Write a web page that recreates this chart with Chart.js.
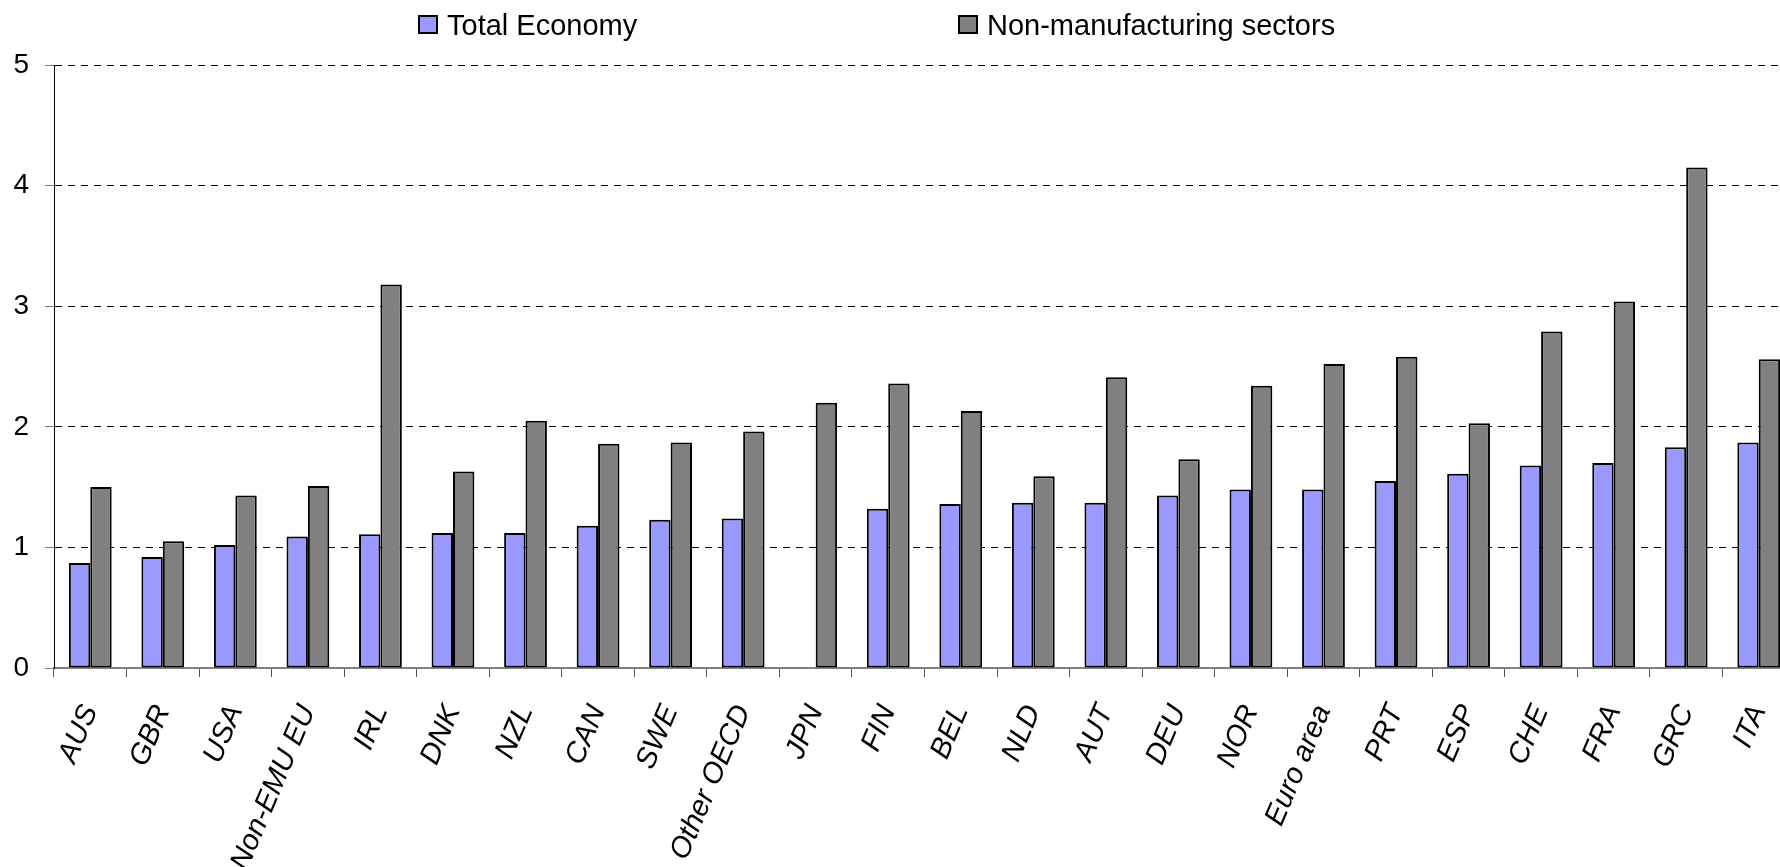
<!DOCTYPE html>
<html>
<head>
<meta charset="utf-8">
<script src="https://cdn.jsdelivr.net/npm/chart.js@4.4.1/dist/chart.umd.min.js"></script>
<style>
  html, body { margin: 0; padding: 0; background: #fff; overflow: hidden; }
  #wrap { position: relative; width: 1795px; height: 867px; }
  #chartCanvas { display: block; }
  .leg { position: absolute; top: 9px; font: 29px "Liberation Sans", Arial, sans-serif; color: #000; white-space: nowrap; }
  .legBox { position: absolute; top: 15px; width: 16px; height: 15px; border: 2px solid #000; }
</style>
</head>
<body>
<div id="wrap">
  <canvas id="chartCanvas" width="1795" height="867"></canvas>
  <div id="legendDiv"></div>
</div>
<script>
//data
const countries = ["AUS", "GBR", "USA", "Non-EMU EU", "IRL", "DNK", "NZL", "CAN", "SWE", "Other OECD",
  "JPN", "FIN", "BEL", "NLD", "AUT", "DEU", "NOR", "Euro area", "PRT", "ESP", "CHE", "FRA", "GRC", "ITA"];
const totalEconomy = [0.87, 0.92, 1.02, 1.09, 1.11, 1.12, 1.12, 1.18, 1.23, 1.24,
  null, 1.32, 1.36, 1.37, 1.37, 1.43, 1.48, 1.48, 1.55, 1.61, 1.68, 1.70, 1.83, 1.87];
const nonManufacturing = [1.50, 1.05, 1.43, 1.51, 3.18, 1.63, 2.05, 1.86, 1.87, 1.96,
  2.20, 2.36, 2.13, 1.59, 2.41, 1.73, 2.34, 2.52, 2.58, 2.03, 2.79, 3.04, 4.15, 2.56];
const yTicks = [0, 1, 2, 3, 4, 5];

const seriesNames = ["Total Economy", "Non-manufacturing sectors"];
const seriesColors = ["#9999FF", "#808080"];
const legendLeft = [418, 958];

//html legend
const legendDiv = document.getElementById("legendDiv");
for (let i = 0; i < seriesNames.length; i++) {
  const box = document.createElement("div");
  box.className = "legBox";
  box.style.left = legendLeft[i] + "px";
  box.style.background = seriesColors[i];
  legendDiv.appendChild(box);
  const txt = document.createElement("div");
  txt.className = "leg";
  txt.style.left = (legendLeft[i] + 29) + "px";
  txt.textContent = seriesNames[i];
  legendDiv.appendChild(txt);
}

//chart
const canvasDiv = document.getElementById("chartCanvas");
const fontFamily = '"Liberation Sans", Arial, sans-serif';

var chart = new Chart(canvasDiv, {
  type: "bar",
  data: {
    labels: countries,
    datasets: [
      {
        label: seriesNames[0],
        data: totalEconomy,
        backgroundColor: seriesColors[0],
        borderColor: "#000",
        borderWidth: 2,
        borderSkipped: false,
      },
      {
        label: seriesNames[1],
        data: nonManufacturing,
        backgroundColor: seriesColors[1],
        borderColor: "#000",
        borderWidth: 2,
        borderSkipped: false,
      },
    ],
  },
  options: {
    responsive: false,
    animation: false,
    devicePixelRatio: 1,
    layout: { padding: { top: 65, right: 0, bottom: 0, left: 0 } },
    datasets: {
      bar: { categoryPercentage: 0.59, barPercentage: 1.0 },
    },
    plugins: {
      legend: { display: false },
      tooltip: { enabled: false },
    },
    scales: {
      x: {
        offset: true,
        grid: {
          offset: true,
          drawOnChartArea: false,
          drawTicks: true,
          tickLength: 9,
          color: "#555",
          lineWidth: 1,
        },
        border: { color: "#808080", width: 2 },
        ticks: {
          autoSkip: false,
          minRotation: 67,
          maxRotation: 67,
          padding: 23,
          color: "#000",
          font: { family: fontFamily, size: 29, style: "italic" },
        },
        afterFit: (axis) => {
          axis.height = 199;
          axis.paddingLeft = 0;
          axis.paddingRight = 0;
        },
      },
      y: {
        min: 0,
        max: 5,
        afterBuildTicks: (axis) => {
          axis.ticks = yTicks.map((v) => ({ value: v }));
        },
        grid: {
          color: (ctx) => (ctx.tick && ctx.tick.value === 0 ? "rgba(0,0,0,0)" : "#000"),
          lineWidth: 1,
          tickLength: 9,
          tickColor: "#808080",
          tickBorderDash: [],
        },
        border: { color: "#000", width: 1, dash: [7, 6] },
        ticks: {
          padding: 16,
          color: "#000",
          font: { family: fontFamily, size: 28 },
        },
        afterFit: (axis) => {
          axis.width = 54;
        },
      },
    },
  },
});
</script>
</body>
</html>
